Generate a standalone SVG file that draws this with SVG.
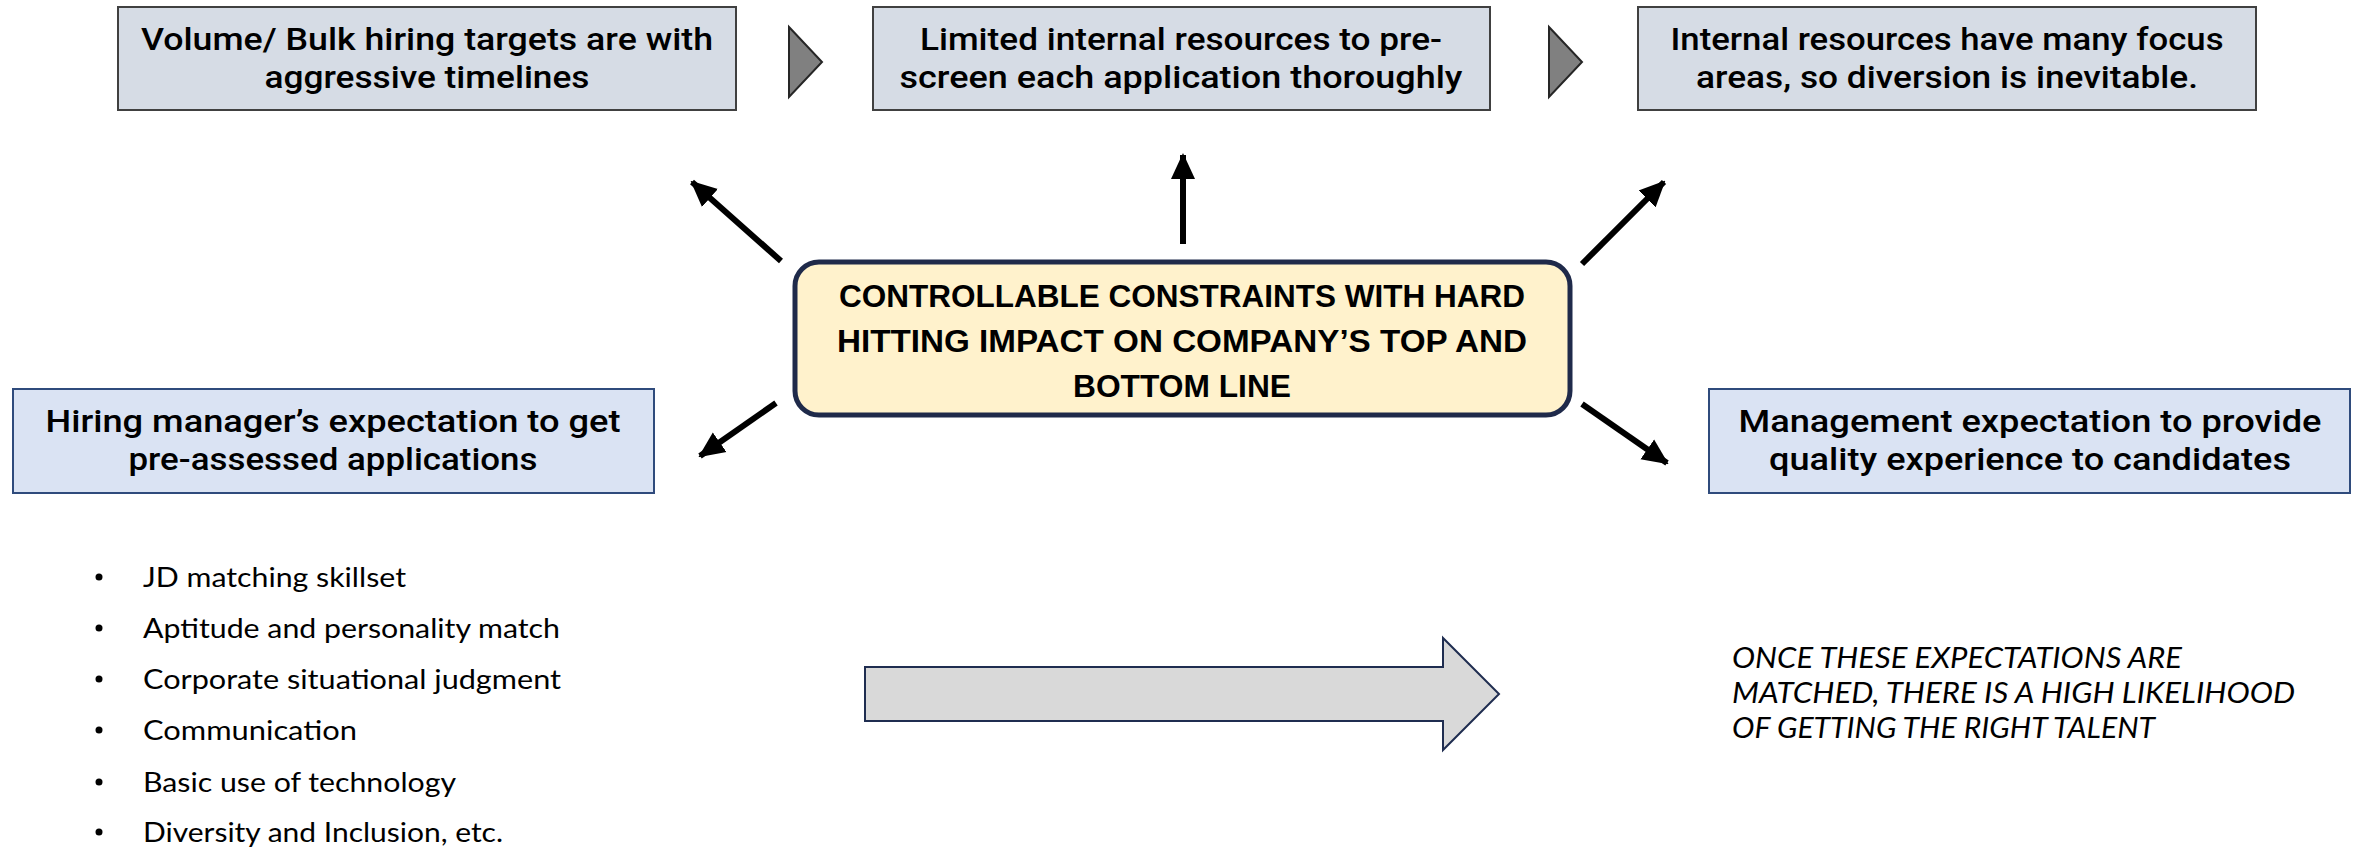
<svg xmlns="http://www.w3.org/2000/svg" width="2359" height="848" viewBox="0 0 2359 848">
<style>
.top{fill:#d6dce5;stroke:#404040;stroke-width:2}
.side{fill:#dae3f3;stroke:#2f4b7c;stroke-width:2}
.bt{font-family:Roboto,"Liberation Sans",sans-serif;font-weight:500;font-size:32px;fill:#000;text-anchor:middle}
.ct{font-family:"Liberation Sans",Arial,sans-serif;font-weight:700;font-size:32px;fill:#000;text-anchor:middle}
.bl{font-family:Lato,"Liberation Sans",sans-serif;font-size:26px;fill:#000}
.it{font-family:Lato,"Liberation Sans",sans-serif;font-style:italic;font-size:28px;fill:#000}
.chev{fill:#808080;stroke:#262626;stroke-width:2}
.conn{stroke:#000;stroke-width:6;fill:none;marker-end:url(#ah)}
</style>
<defs>
<marker id="ah" markerUnits="userSpaceOnUse" markerWidth="26" markerHeight="26" viewBox="0 0 26 26" refX="24" refY="13" orient="auto">
<path d="M0,1 L26,13 L0,25 z" fill="#000"/>
</marker>
</defs>
<rect width="2359" height="848" fill="#fff"/>

<g id="box-volume">
<rect class="top" x="118" y="7" width="618" height="103"/>
<text class="bt" x="427" y="50" textLength="572" lengthAdjust="spacingAndGlyphs">Volume/ Bulk hiring targets are with</text>
<text class="bt" x="427" y="88" textLength="325" lengthAdjust="spacingAndGlyphs">aggressive timelines</text>
</g>
<g id="chevron-1"><polygon class="chev" points="789,27 822,62 789,97"/></g>
<g id="box-limited">
<rect class="top" x="873" y="7" width="617" height="103"/>
<text class="bt" x="1181" y="50" textLength="522" lengthAdjust="spacingAndGlyphs">Limited internal resources to pre-</text>
<text class="bt" x="1181" y="88" textLength="563" lengthAdjust="spacingAndGlyphs">screen each application thoroughly</text>
</g>
<g id="chevron-2"><polygon class="chev" points="1549,27 1582,62 1549,97"/></g>
<g id="box-internal">
<rect class="top" x="1638" y="7" width="618" height="103"/>
<text class="bt" x="1947" y="50" textLength="553" lengthAdjust="spacingAndGlyphs">Internal resources have many focus</text>
<text class="bt" x="1947" y="88" textLength="502" lengthAdjust="spacingAndGlyphs">areas, so diversion is inevitable.</text>
</g>

<g id="center">
<rect x="795" y="262" width="775" height="153" rx="24" fill="#fff2cc" stroke="#1f2a4a" stroke-width="5"/>
<text class="ct" x="1182" y="307" textLength="686" lengthAdjust="spacingAndGlyphs">CONTROLLABLE CONSTRAINTS WITH HARD</text>
<text class="ct" x="1182" y="352" textLength="690" lengthAdjust="spacingAndGlyphs">HITTING IMPACT ON COMPANY’S TOP AND</text>
<text class="ct" x="1182" y="397" textLength="218" lengthAdjust="spacingAndGlyphs">BOTTOM LINE</text>
</g>

<g id="box-hiring-manager">
<rect class="side" x="13" y="389" width="641" height="104"/>
<text class="bt" x="333" y="432" textLength="575" lengthAdjust="spacingAndGlyphs">Hiring manager’s expectation to get</text>
<text class="bt" x="333" y="470" textLength="409" lengthAdjust="spacingAndGlyphs">pre-assessed applications</text>
</g>
<g id="box-management">
<rect class="side" x="1709" y="389" width="641" height="104"/>
<text class="bt" x="2030" y="432" textLength="583" lengthAdjust="spacingAndGlyphs">Management expectation to provide</text>
<text class="bt" x="2030" y="470" textLength="522" lengthAdjust="spacingAndGlyphs">quality experience to candidates</text>
</g>

<g id="connectors">
<line class="conn" x1="781" y1="261" x2="692" y2="182"/>
<line class="conn" x1="1183" y1="244" x2="1183" y2="155"/>
<line class="conn" x1="1582" y1="264" x2="1664" y2="182"/>
<line class="conn" x1="776" y1="403" x2="700" y2="456"/>
<line class="conn" x1="1582" y1="404" x2="1667" y2="463"/>
</g>

<g id="bullets">
<circle cx="99" cy="577" r="3.5"/>
<text class="bl" x="143" y="587" textLength="263" lengthAdjust="spacingAndGlyphs">JD matching skillset</text>
<circle cx="99" cy="628" r="3.5"/>
<text class="bl" x="143" y="638" textLength="417" lengthAdjust="spacingAndGlyphs">Aptitude and personality match</text>
<circle cx="99" cy="679" r="3.5"/>
<text class="bl" x="143" y="689" textLength="418" lengthAdjust="spacingAndGlyphs">Corporate situational judgment</text>
<circle cx="99" cy="730" r="3.5"/>
<text class="bl" x="143" y="740" textLength="214" lengthAdjust="spacingAndGlyphs">Communication</text>
<circle cx="99" cy="782" r="3.5"/>
<text class="bl" x="143" y="792" textLength="313" lengthAdjust="spacingAndGlyphs">Basic use of technology</text>
<circle cx="99" cy="832" r="3.5"/>
<text class="bl" x="143" y="842" textLength="360" lengthAdjust="spacingAndGlyphs">Diversity and Inclusion, etc.</text>
</g>

<g id="big-arrow">
<polygon points="865,667 1443,667 1443,638 1499,694 1443,750 1443,721 865,721" fill="#d9d9d9" stroke="#1f2d50" stroke-width="2"/>
</g>

<g id="outcome">
<text class="it" x="1732" y="668" textLength="450" lengthAdjust="spacingAndGlyphs">ONCE THESE EXPECTATIONS ARE</text>
<text class="it" x="1732" y="703" textLength="563" lengthAdjust="spacingAndGlyphs">MATCHED, THERE IS A HIGH LIKELIHOOD</text>
<text class="it" x="1732" y="738" textLength="423" lengthAdjust="spacingAndGlyphs">OF GETTING THE RIGHT TALENT</text>
</g>
</svg>
